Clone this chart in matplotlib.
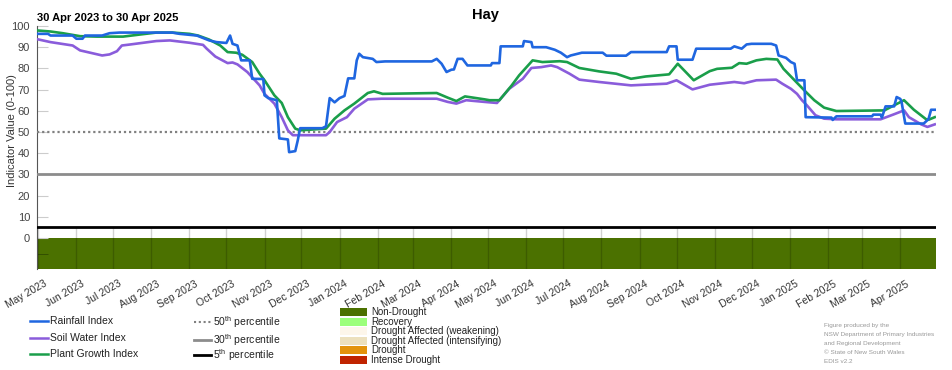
import numpy as np
import pandas as pd
import matplotlib
matplotlib.use("Agg")
import matplotlib.pyplot as plt
import matplotlib.dates as mdates
import matplotlib.transforms as mtransforms
from matplotlib.lines import Line2D
from matplotlib.patches import Rectangle

plt.rcParams['font.family'] = ['Liberation Sans', 'DejaVu Sans']

start = pd.Timestamp("2023-04-30")
end = pd.Timestamp("2025-04-30")

# values, as (days since 30 Apr 2023, index value)
rain_days = [0, 9, 11, 29, 32, 37, 39, 53, 59, 67, 110, 116, 130, 140, 146, 154, 157, 159, 163, 166,
             173, 175, 184, 185, 188, 195, 197, 204, 205, 210, 212, 214, 232, 235, 238, 242, 246, 250,
             253, 258, 260, 262, 265, 273, 276, 283, 321, 325, 329, 333, 337, 339, 342, 346, 350, 369,
             370, 376, 377, 395, 396, 402, 403, 414, 421, 426, 431, 434, 443, 460, 463, 479, 483, 512,
             514, 520, 521, 533, 536, 564, 567, 573, 577, 581, 597, 601, 603, 609, 613, 616, 618, 624,
             625, 646, 647, 650, 679, 680, 686, 687, 690, 697, 699, 702, 703, 706, 721, 724, 725, 727, 730]
rain_vals = [96.3, 96.3, 95.5, 95.5, 94.0, 94.0, 95.5, 95.5, 96.6, 96.9, 96.9, 96.3, 95.5, 93.2, 92.4,
             92.0, 95.5, 91.6, 90.8, 83.8, 83.8, 75.1, 75.0, 67.3, 66.0, 65.0, 47.0, 46.5, 40.5, 41.0,
             46.0, 51.8, 51.8, 52.7, 66.0, 64.0, 66.0, 67.0, 75.3, 75.3, 83.8, 86.9, 85.3, 84.5, 83.0,
             83.3, 83.3, 84.5, 82.2, 78.3, 79.4, 79.5, 84.5, 84.5, 81.4, 81.4, 82.5, 82.5, 90.4, 90.4,
             92.9, 92.4, 90.0, 90.0, 88.8, 87.4, 85.3, 86.1, 87.4, 87.4, 86.0, 86.0, 87.7, 87.7, 90.4,
             90.4, 84.1, 84.1, 89.3, 89.3, 90.4, 89.3, 91.3, 91.6, 91.6, 90.8, 86.1, 85.0, 83.0, 82.2,
             74.4, 74.4, 57.0, 56.8, 55.7, 57.4, 57.4, 58.2, 58.2, 56.8, 62.1, 62.1, 66.5, 65.6, 64.2,
             54.0, 54.0, 55.6, 56.3, 60.5, 60.5]

soil_days = [0, 11, 29, 35, 41, 53, 59, 65, 69, 76, 97, 108, 124, 135, 138, 145, 155, 159, 163, 171,
             181, 185, 193, 199, 204, 208, 235, 238, 244, 252, 258, 269, 280, 325, 334, 341, 349, 364,
             374, 384, 395, 402, 410, 418, 423, 433, 441, 457, 483, 512, 520, 533, 547, 567, 575, 585,
             601, 606, 613, 618, 622, 626, 633, 640, 650, 686, 697, 705, 709, 719, 724, 730]
soil_vals = [93.8, 92.4, 90.8, 88.5, 87.7, 86.1, 86.6, 88.1, 90.8, 91.3, 92.9, 93.2, 92.1, 91.1, 89.3,
             85.6, 82.5, 82.8, 81.9, 78.3, 72.0, 68.0, 63.4, 57.0, 50.8, 48.5, 48.5, 50.0, 54.7, 57.0,
             61.0, 65.4, 65.7, 65.7, 64.2, 63.4, 65.0, 64.2, 63.7, 70.4, 75.1, 80.2, 80.6, 81.4, 80.6,
             77.5, 74.7, 73.6, 72.0, 72.8, 74.4, 70.1, 72.3, 73.6, 73.0, 74.4, 74.7, 72.8, 70.4, 68.0,
             65.0, 62.6, 57.9, 56.3, 56.0, 56.0, 58.4, 60.2, 57.0, 53.6, 52.4, 53.6]

plant_days = [0, 11, 21, 35, 49, 70, 84, 97, 110, 124, 131, 140, 149, 155, 162, 167, 175, 181, 185,
              193, 199, 204, 210, 214, 235, 242, 250, 258, 269, 274, 281, 325, 334, 341, 348, 364, 368,
              376, 386, 392, 403, 411, 425, 431, 441, 457, 471, 483, 495, 514, 521, 534, 547, 553, 565,
              571, 577, 585, 593, 602, 607, 616, 624, 632, 640, 650, 689, 697, 705, 713, 723, 725, 730]
plant_vals = [97.9, 97.4, 96.6, 95.2, 95.0, 95.0, 96.0, 96.9, 96.9, 96.3, 95.5, 93.6, 90.8, 87.7, 87.4,
              86.4, 83.0, 77.5, 74.4, 67.3, 63.7, 57.0, 51.6, 50.8, 51.6, 56.3, 60.2, 63.4, 68.4, 69.2,
              68.0, 68.4, 66.2, 64.6, 66.8, 65.4, 65.0, 65.0, 72.0, 76.7, 83.8, 83.0, 83.4, 83.0, 80.2,
              78.6, 77.5, 75.1, 76.2, 77.2, 82.2, 74.4, 78.7, 79.8, 80.3, 82.5, 82.2, 83.8, 84.5, 84.2,
              79.8, 74.4, 69.6, 65.0, 61.5, 59.9, 60.2, 62.6, 65.0, 60.5, 56.0, 55.8, 57.0]

percentiles = [50, 30, 5]
categories = ["Non-Drought", "Recovery", "Drought Affected (weakening)",
              "Drought Affected (intensifying)", "Drought", "Intense Drought"]
cat_colors = ["#4b7100", "#9cff7a", "#fdf6ea", "#ece0bd", "#e3930c", "#c02400"]
credits = ["Figure produced by the", "NSW Department of Primary Industries",
           "and Regional Development", "\u00a9 State of New South Wales", "EDIS v2.2"]

blue = "#1f66e0"
purple = "#8a5cdb"
green = "#1a9e4a"


def to_dates(days):
    return start + pd.to_timedelta(days, unit="D")


fig = plt.figure(figsize=(9.52, 3.70), dpi=100)
ax = fig.add_axes([37 / 952, 1 - 269 / 370, (936 - 37) / 952, (269 - 26) / 370])
ymin = -14.6
ax.set_xlim(start, end)
ax.set_ylim(ymin, 100)

# drought category band (whole period is Non-Drought)
ax.fill_between([start, end], ymin, 0, color=cat_colors[0], lw=0, zorder=1)
months = pd.date_range("2023-05-01", "2025-04-01", freq="MS")
ax.vlines(months, ymin, 5, colors="black", alpha=0.18, lw=1, zorder=2)

# percentile lines
ax.axhline(50, color="#808080", lw=1.6, ls=(0, (1, 1.3)), zorder=3)
ax.axhline(30, color="#8c8c8c", lw=2.0, zorder=3)
ax.axhline(5, color="black", lw=2.0, zorder=3)

ax.plot(to_dates(soil_days), soil_vals, color=purple, lw=1.9, zorder=5)
ax.plot(to_dates(plant_days), plant_vals, color=green, lw=1.9, zorder=6)
ax.plot(to_dates(rain_days), rain_vals, color=blue, lw=1.9, zorder=7)

for s in ["top", "right", "bottom"]:
    ax.spines[s].set_visible(False)
ax.spines["left"].set_color("#555555")
ax.spines["left"].set_linewidth(0.8)

ax.set_yticks(np.arange(0, 101, 10))
ax.set_yticks([-7.5], minor=True)
ax.tick_params(axis="y", which="both", direction="in", length=8, color="#cccccc",
               labelsize=8, labelcolor="#444444", pad=5)
ax.tick_params(axis="y", which="minor", color="#2f4a00")

ax.xaxis.set_major_locator(mdates.MonthLocator())
ax.xaxis.set_major_formatter(mdates.DateFormatter("%b %Y"))
ax.tick_params(axis="x", length=0, labelsize=7.5, labelcolor="#333333", pad=7)
shift = mtransforms.ScaledTranslation(5 / 100, 0, fig.dpi_scale_trans)
for lab in ax.get_xticklabels():
    lab.set_rotation(30)
    lab.set_ha("right")
    lab.set_rotation_mode("anchor")
    lab.set_transform(lab.get_transform() + shift)

ax.set_ylabel("Indicator Value (0-100)", fontsize=8, color="#333333")
ax.yaxis.set_label_coords(-0.022, 0.57)

fig.text(485 / 952, 1 - 15 / 370, "Hay", ha="center", va="center", fontsize=10.5, fontweight="bold")
fig.text(37 / 952, 1 - 18 / 370, "30 Apr 2023 to 30 Apr 2025", ha="left", va="center",
         fontsize=8, fontweight="bold")

W, H = 952, 370


def fig_line(x0, x1, y, **kw):
    fig.add_artist(Line2D([x0 / W, x1 / W], [1 - y / H, 1 - y / H], transform=fig.transFigure, **kw))


# index legend
for name, col, y in zip(["Rainfall Index", "Soil Water Index", "Plant Growth Index"],
                        [blue, purple, green], [321, 338, 354]):
    fig_line(30, 48, y, color=col, lw=1.8)
    fig.text(50 / W, 1 - y / H, name, ha="left", va="center", fontsize=7.5, color="#222222")

# percentile legend
pstyles = [dict(color="#808080", lw=1.5, ls=(0, (1, 1.3))), dict(color="#8c8c8c", lw=2.0),
           dict(color="black", lw=2.0)]
for p, st, y in zip(percentiles, pstyles, [322, 340, 355]):
    fig_line(194, 211, y, **st)
    fig.text(213 / W, 1 - y / H, r"%d$^{\mathregular{th}}$ percentile" % p, ha="left", va="center",
             fontsize=7.5, color="#222222")

# drought category legend
for i, (cat, col) in enumerate(zip(categories, cat_colors)):
    yc = 312 + i * 9.6
    fig.add_artist(Rectangle((340 / W, 1 - (yc + 4) / H), 27 / W, 8 / H, transform=fig.transFigure,
                             facecolor=col, edgecolor="none"))
    fig.text(371 / W, 1 - yc / H, cat, ha="left", va="center", fontsize=7, color="#222222")

for i, line in enumerate(credits):
    fig.text(824 / W, 1 - (326 + i * 8.8) / H, line, ha="left", va="center", fontsize=4.6,
             color="#999999")

fig.savefig("out.png", dpi=100)
